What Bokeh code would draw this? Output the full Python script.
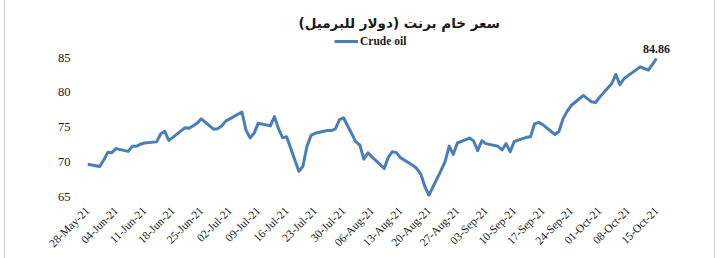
from datetime import datetime, timedelta
from math import pi
from bokeh.plotting import figure
from bokeh.models import (Range1d, FixedTicker, Legend, LegendItem, Label,
                          ColumnDataSource)
from bokeh.core.properties import value
from bokeh.embed import file_html
from bokeh.resources import INLINE

# ---------------- data ----------------
title_text = "سعر خام برنت (دولار للبرميل)"
series_name = "Crude oil"

dates = [
    "2021-05-28", "2021-05-31", "2021-06-01", "2021-06-02", "2021-06-03", "2021-06-04",
    "2021-06-07", "2021-06-08", "2021-06-09", "2021-06-10", "2021-06-11",
    "2021-06-14", "2021-06-15", "2021-06-16", "2021-06-17", "2021-06-18",
    "2021-06-21", "2021-06-22", "2021-06-23", "2021-06-24", "2021-06-25",
    "2021-06-28", "2021-06-29", "2021-06-30", "2021-07-01", "2021-07-02",
    "2021-07-05", "2021-07-06", "2021-07-07", "2021-07-08", "2021-07-09",
    "2021-07-12", "2021-07-13", "2021-07-14", "2021-07-15", "2021-07-16",
    "2021-07-19", "2021-07-20", "2021-07-21", "2021-07-22", "2021-07-23",
    "2021-07-26", "2021-07-27", "2021-07-28", "2021-07-29", "2021-07-30",
    "2021-08-02", "2021-08-03", "2021-08-04", "2021-08-05", "2021-08-06",
    "2021-08-09", "2021-08-10", "2021-08-11", "2021-08-12", "2021-08-13",
    "2021-08-16", "2021-08-17", "2021-08-18", "2021-08-19", "2021-08-20",
    "2021-08-23", "2021-08-24", "2021-08-25", "2021-08-26", "2021-08-27",
    "2021-08-30", "2021-08-31", "2021-09-01", "2021-09-02", "2021-09-03",
    "2021-09-06", "2021-09-07", "2021-09-08", "2021-09-09", "2021-09-10",
    "2021-09-13", "2021-09-14", "2021-09-15", "2021-09-16", "2021-09-17",
    "2021-09-20", "2021-09-21", "2021-09-22", "2021-09-23", "2021-09-24",
    "2021-09-27", "2021-09-28", "2021-09-29", "2021-09-30", "2021-10-01",
    "2021-10-04", "2021-10-05", "2021-10-06", "2021-10-07", "2021-10-08",
    "2021-10-11", "2021-10-12", "2021-10-13", "2021-10-14", "2021-10-15",
]

prices = [
    69.63, 69.32, 70.25, 71.35, 71.31, 71.89,
    71.49, 72.22, 72.22, 72.52, 72.69,
    72.86, 73.99, 74.39, 73.08, 73.51,
    74.90, 74.81, 75.19, 75.56, 76.18,
    74.68, 74.76, 75.13, 75.84, 76.17,
    77.16, 74.53, 73.43, 74.12, 75.55,
    75.16, 76.49, 74.76, 73.47, 73.59,
    68.62, 69.35, 72.23, 73.79, 74.10,
    74.50, 74.48, 74.74, 76.05, 76.33,
    72.89, 72.41, 70.38, 71.29, 70.70,
    69.04, 70.63, 71.44, 71.31, 70.59,
    69.51, 69.03, 68.23, 66.45, 65.18,
    68.75, 70.05, 72.25, 71.07, 72.70,
    73.41, 72.99, 71.59, 73.03, 72.61,
    72.22, 71.69, 72.60, 71.45, 72.92,
    73.51, 73.60, 75.46, 75.67, 75.34,
    73.92, 74.36, 76.19, 77.25, 78.09,
    79.53, 79.09, 78.64, 78.52, 79.28,
    81.26, 82.56, 81.08, 81.95, 82.39,
    83.65, 83.42, 83.18, 84.00, 84.86,
]

tick_dates = ["2021-05-28", "2021-06-04", "2021-06-11", "2021-06-18", "2021-06-25",
              "2021-07-02", "2021-07-09", "2021-07-16", "2021-07-23", "2021-07-30",
              "2021-08-06", "2021-08-13", "2021-08-20", "2021-08-27", "2021-09-03",
              "2021-09-10", "2021-09-17", "2021-09-24", "2021-10-01", "2021-10-08",
              "2021-10-15"]
tick_labels = ["28-May-21", "04-Jun-21", "11-Jun-21", "18-Jun-21", "25-Jun-21",
               "02-Jul-21", "09-Jul-21", "16-Jul-21", "23-Jul-21", "30-Jul-21",
               "06-Aug-21", "13-Aug-21", "20-Aug-21", "27-Aug-21", "03-Sep-21",
               "10-Sep-21", "17-Sep-21", "24-Sep-21", "01-Oct-21", "08-Oct-21",
               "15-Oct-21"]
y_ticks = [65, 70, 75, 80, 85]

# ---------------- layout ----------------
W, H = 720, 258
LEFT = 87                      # px of first date
LAST_PX = 656                  # px of last date
RIGHT = 705                    # frame right edge in px
BOTTOM = 196                   # frame bottom in px (frame top = 0)
PX_PER_UNIT = 6.95
Y_MIN = 65

LINE_COLOR = "#4a7ebb"
SERIF = "Liberation Serif"
TEXT_COLOR = "#1a1a1a"

x_dt = [datetime.strptime(d, "%Y-%m-%d") for d in dates]
t_dt = [datetime.strptime(d, "%Y-%m-%d") for d in tick_dates]
span_days = (x_dt[-1] - x_dt[0]).total_seconds() / 86400
px_per_day = (LAST_PX - LEFT) / span_days
x_end = x_dt[-1] + timedelta(days=(RIGHT - LAST_PX) / px_per_day)
y_max = Y_MIN + BOTTOM / PX_PER_UNIT

p = figure(width=W, height=H, x_axis_type="datetime",
           x_range=Range1d(x_dt[0], x_end), y_range=Range1d(Y_MIN, y_max),
           output_backend="svg", toolbar_location=None,
           min_border_left=LEFT, min_border_right=W - RIGHT,
           min_border_top=0, min_border_bottom=H - BOTTOM)
p.border_fill_color = None
p.background_fill_color = None
p.outline_line_color = None
p.grid.visible = False
p.styles = {"box-shadow": "inset 4px 0 0 #ffffff, inset 5px 0 0 #d0d0d0, "
                          "inset -5px 0 0 #ffffff, inset -6px 0 0 #d0d0d0"}

src = ColumnDataSource(dict(x=x_dt, y=prices))
r = p.line("x", "y", source=src, line_color=LINE_COLOR, line_width=3,
           line_join="round")

# last value label
last = ColumnDataSource(dict(x=[x_dt[-1]], y=[prices[-1]], t=[f"{prices[-1]:.2f}"]))
p.text("x", "y", text="t", source=last, text_font=value(SERIF),
       text_font_size="12px", text_font_style="bold", text_color=TEXT_COLOR,
       text_align="center", text_baseline="bottom", y_offset=-5)

# axes
xa = p.xaxis[0]
xa.ticker = FixedTicker(ticks=[t.timestamp() * 1000 for t in t_dt])
xa.major_label_overrides = {t.timestamp() * 1000: lab for t, lab in zip(t_dt, tick_labels)}
xa.major_label_orientation = pi / 4
ya = p.yaxis[0]
ya.ticker = FixedTicker(ticks=y_ticks)
for ax in (xa, ya):
    ax.axis_line_color = None
    ax.major_tick_line_color = None
    ax.minor_tick_line_color = None
    ax.major_label_text_font = SERIF
    ax.major_label_text_color = TEXT_COLOR
xa.major_label_text_font_size = "11.5px"
xa.major_label_standoff = 6
ya.major_label_text_font_size = "12.5px"
ya.major_label_standoff = 11

# legend (location: px from frame left / frame bottom)
legend = Legend(items=[LegendItem(label=series_name, renderers=[r])],
                location=(334 - LEFT, BOTTOM - 47), orientation="horizontal",
                margin=0, padding=0, spacing=0, glyph_width=24, glyph_height=12,
                label_standoff=2, label_text_font=SERIF, label_text_font_size="11.5px",
                label_text_font_style="bold", label_text_color=TEXT_COLOR,
                border_line_color=None, background_fill_alpha=0)
p.add_layout(legend)

# title (placed in data space above the plotted values)
title_x = x_dt[0] + timedelta(days=(298 - LEFT) / px_per_day)
title_y = Y_MIN + (BOTTOM - 22) / PX_PER_UNIT
p.add_layout(Label(x=title_x, y=title_y, text=title_text, text_font="DejaVu Sans",
                   text_font_size="13.5px", text_font_style="bold", text_color=TEXT_COLOR,
                   text_align="left", text_baseline="middle"))

open("out.html", "w").write(file_html(p, INLINE))
